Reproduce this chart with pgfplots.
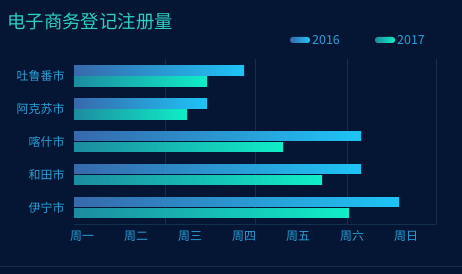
\documentclass[border=0pt]{standalone}
\usepackage{pgfplots}
\pgfplotsset{compat=1.18}
\usepackage{fontspec}
\setmainfont{Noto Sans CJK SC}
\definecolor{bg}{RGB}{4,22,52}
\definecolor{gridc}{RGB}{18,48,74}
\definecolor{aA}{RGB}{55,105,172}
\definecolor{aB}{RGB}{30,196,246}
\definecolor{bA}{RGB}{28,140,160}
\definecolor{bB}{RGB}{16,238,200}
\definecolor{titlec}{RGB}{44,204,192}
\definecolor{labc}{RGB}{42,160,216}
\begin{document}
\begin{tikzpicture}
\path[use as bounding box] (0,0) rectangle (462bp,274bp);
\fill[bg] (0,0) rectangle (462bp,274bp);
\draw[gridc, line width=1bp] (0,7bp) -- (462bp,7bp);
\node[anchor=west, text=titlec, font=\fontsize{18.5}{21}\selectfont, inner sep=0pt] at (7bp,252bp) {电子商务登记注册量};
\fill[left color=aA, right color=aB, rounded corners=2.5bp] (290bp,231bp) rectangle (310bp,237bp);
\node[anchor=west, text=labc, font=\fontsize{12.5}{14}\selectfont, inner sep=0pt] at (312bp,234bp) {2016};
\fill[left color=bA, right color=bB, rounded corners=2.5bp] (375bp,231bp) rectangle (395bp,237bp);
\node[anchor=west, text=labc, font=\fontsize{12.5}{14}\selectfont, inner sep=0pt] at (397bp,234bp) {2017};
\begin{axis}[
  at={(74bp,50bp)}, anchor=south west,
  scale only axis, width=362bp, height=164.5bp,
  xmin=0, xmax=362, ymin=-0.5, ymax=4.5,
  axis line style={draw=none},
  xtick={8,62,116,170,224,278,332},
  xticklabels={周一,周二,周三,周四,周五,周六,周日},
  extra x ticks={91,181,273,362},
  extra x tick labels={},
  extra x tick style={grid=major, major grid style={gridc, line width=0.8bp}},
  ytick={0,1,2,3,4},
  yticklabels={伊宁市,和田市,喀什市,阿克苏市,吐鲁番市},
  major tick length=0pt,
  tick style={draw=none},
  xticklabel style={text=labc, font=\fontsize{12}{14}\selectfont, anchor=north, text height=9bp, text depth=2bp, yshift=-4bp},
  yticklabel style={text=labc, font=\fontsize{12}{14}\selectfont, xshift=-6bp},
  clip=false,
]
\draw[gridc, line width=0.8bp] (axis cs:0,-0.5) -- (axis cs:362,-0.5);
% 2016
\addplot[xbar, bar width=9.5bp, bar shift=5.5bp, draw=none, left color=aA, right color=aB] coordinates {(170,4)};
\addplot[xbar, bar width=9.5bp, bar shift=5.5bp, draw=none, left color=aA, right color=aB] coordinates {(133,3)};
\addplot[xbar, bar width=9.5bp, bar shift=5.5bp, draw=none, left color=aA, right color=aB] coordinates {(287,2)};
\addplot[xbar, bar width=9.5bp, bar shift=5.5bp, draw=none, left color=aA, right color=aB] coordinates {(287,1)};
\addplot[xbar, bar width=9.5bp, bar shift=5.5bp, draw=none, left color=aA, right color=aB] coordinates {(325,0)};
% 2017
\addplot[xbar, bar width=9.5bp, bar shift=-5.5bp, draw=none, left color=bA, right color=bB] coordinates {(133,4)};
\addplot[xbar, bar width=9.5bp, bar shift=-5.5bp, draw=none, left color=bA, right color=bB] coordinates {(113,3)};
\addplot[xbar, bar width=9.5bp, bar shift=-5.5bp, draw=none, left color=bA, right color=bB] coordinates {(209,2)};
\addplot[xbar, bar width=9.5bp, bar shift=-5.5bp, draw=none, left color=bA, right color=bB] coordinates {(248,1)};
\addplot[xbar, bar width=9.5bp, bar shift=-5.5bp, draw=none, left color=bA, right color=bB] coordinates {(275,0)};
\end{axis}
\end{tikzpicture}
\end{document}
